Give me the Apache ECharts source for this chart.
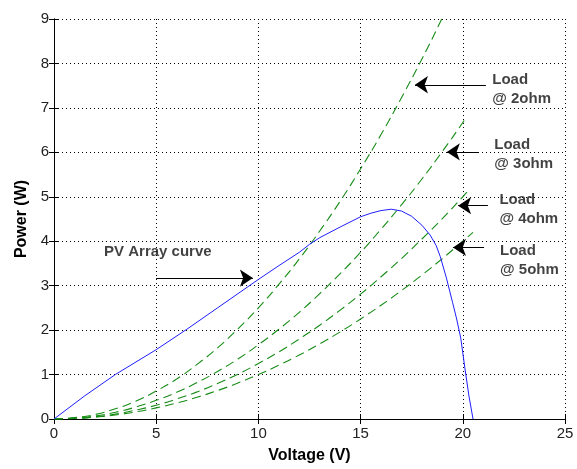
<!DOCTYPE html>
<html>
<head>
<meta charset="utf-8">
<script src="https://cdn.jsdelivr.net/npm/echarts@6/dist/echarts.min.js"></script>
<style>
  html, body { margin: 0; padding: 0; background: #fff; }
  #chart { width: 577px; height: 469px; }
</style>
</head>
<body>
<div id="chart"></div>
<script>
// PV array curve
var pvV = [0, 1.5, 3, 5, 6.5, 8, 10, 11, 12, 12.5, 13, 14, 15, 15.5, 16, 16.5, 17, 17.5, 18, 18.4, 18.7, 18.9, 19.2, 19.5, 19.7, 19.9, 20.1, 20.3, 20.5];
var pvP = [0, 0.52, 1.0, 1.56, 2.02, 2.5, 3.14, 3.45, 3.75, 3.93, 4.08, 4.32, 4.55, 4.63, 4.69, 4.72, 4.68, 4.56, 4.36, 4.14, 3.9, 3.65, 3.17, 2.62, 2.25, 1.82, 1.15, 0.52, 0];

// load lines
var loadV = [0, 1, 2, 3, 4, 5, 6, 7, 8, 9, 10, 11, 12, 13, 14, 15, 16, 17, 18, 19, 20];
var load2 = [0, 0.03, 0.1, 0.23, 0.4, 0.63, 0.9, 1.23, 1.6, 2.03, 2.5, 3.03, 3.6, 4.23, 4.9, 5.63, 6.4, 7.23, 8.1, 9.03, 10];
var load3 = [0, 0.02, 0.07, 0.15, 0.27, 0.42, 0.6, 0.82, 1.07, 1.35, 1.67, 2.02, 2.4, 2.82, 3.27, 3.75, 4.27, 4.82, 5.4, 6.02, 6.67];
var load4 = [0, 0.01, 0.05, 0.11, 0.2, 0.31, 0.45, 0.61, 0.8, 1.01, 1.25, 1.51, 1.8, 2.11, 2.45, 2.81, 3.2, 3.61, 4.05, 4.51, 5];
var load5 = [0, 0.01, 0.04, 0.09, 0.16, 0.25, 0.36, 0.49, 0.64, 0.81, 1.0, 1.21, 1.44, 1.69, 1.96, 2.25, 2.56, 2.89, 3.24, 3.61, 4.0];
var loadEndV = [20.5, 20.1, 20.35, 20.5];
var loadEndP = [10.5, 6.75, 5.18, 4.2];

// annotations
var noteText = ['PV Array curve', 'Load\n@ 2ohm', 'Load\n@ 3ohm', 'Load\n@ 4ohm', 'Load\n@ 5ohm'];
var noteV = [2.45, 21.44, 21.54, 21.79, 21.82];
var noteP = [3.77, 7.42, 5.95, 4.71, 3.57];
var arrowFromV = [5.0, 21.13, 20.79, 21.23, 21.04];
var arrowToV = [9.73, 17.66, 19.22, 19.77, 19.52];
var arrowP = [3.17, 7.52, 6.01, 4.8, 3.86];

function pairs(xs, ys) {
	var out = [];
	for (var i = 0; i < xs.length; i++) out.push([xs[i], ys[i]]);
	return out;
}

var loads = [load2, load3, load4, load5];
var loadSeries = loads.map(function (vals, k) {
	var d = pairs(loadV, vals);
	d.push([loadEndV[k], loadEndP[k]]);
	return {
		type: 'line',
		data: d,
		symbol: 'none',
		smooth: true,
		lineStyle: { color: '#168c16', width: 1.1, type: [9, 5] },
		z: 2
	};
});

var arrows = [];
for (var i = 0; i < arrowP.length; i++) {
	arrows.push([{ coord: [arrowFromV[i], arrowP[i]] }, { coord: [arrowToV[i], arrowP[i]] }]);
}

var notes = [];
for (var j = 0; j < noteText.length; j++) {
	notes.push({ value: [noteV[j], noteP[j]], name: noteText[j] });
}

var chart = echarts.init(document.getElementById('chart'));
var axisFont = { fontFamily: 'Liberation Sans', fontSize: 15, color: '#222' };

var option = {
	animation: false,
	grid: { left: 54, top: 19, right: 12, bottom: 47 },
	xAxis: [{
		type: 'value', min: 0, max: 25, interval: 5,
		name: 'Voltage (V)', nameLocation: 'middle', nameGap: 29,
		nameTextStyle: { fontFamily: 'Liberation Sans', fontWeight: 'bold', fontSize: 16, color: '#000' },
		axisLine: { show: true, lineStyle: { color: '#000', width: 1 } },
		axisTick: { show: true, inside: true, length: 5, lineStyle: { color: '#000' } },
		axisLabel: Object.assign({ margin: 7 }, axisFont),
		splitLine: { show: true, lineStyle: { color: '#000', width: 1, type: [1, 3] } }
	}, {
		type: 'value', min: 0, max: 25, interval: 5, position: 'top',
		axisLine: { show: true, lineStyle: { color: '#000', width: 1 } },
		axisTick: { show: true, inside: true, length: 5, lineStyle: { color: '#000' } },
		axisLabel: { show: false },
		splitLine: { show: false }
	}],
	yAxis: [{
		type: 'value', min: 0, max: 9, interval: 1,
		name: 'Power (W)', nameLocation: 'middle', nameGap: 24,
		nameTextStyle: { fontFamily: 'Liberation Sans', fontWeight: 'bold', fontSize: 16, color: '#000' },
		axisLine: { show: true, lineStyle: { color: '#000', width: 1 } },
		axisTick: { show: true, inside: true, length: 5, lineStyle: { color: '#000' } },
		axisLabel: Object.assign({ margin: 5 }, axisFont),
		splitLine: { show: true, lineStyle: { color: '#000', width: 1, type: [1, 3] } }
	}, {
		type: 'value', min: 0, max: 9, interval: 1, position: 'right',
		axisLine: { show: true, lineStyle: { color: '#000', width: 1 } },
		axisTick: { show: true, inside: true, length: 5, lineStyle: { color: '#000' } },
		axisLabel: { show: false },
		splitLine: { show: false }
	}],
	series: loadSeries.concat([{
		type: 'line',
		data: pairs(pvV, pvP),
		symbol: 'none',
		smooth: false,
		lineStyle: { color: '#1f1fff', width: 1 },
		z: 3,
		markLine: {
			silent: true,
			symbol: ['none', 'arrow'],
			symbolSize: 13,
			label: { show: false },
			lineStyle: { color: '#000', width: 1, type: 'solid' },
			data: arrows
		}
	}, {
		type: 'scatter',
		data: notes,
		symbolSize: 0,
		silent: true,
		label: {
			show: true,
			position: [0, 0],
			align: 'left',
			verticalAlign: 'middle',
			formatter: function (p) { return p.name; },
			fontFamily: 'Liberation Sans',
			fontWeight: 'bold',
			fontSize: 15,
			lineHeight: 19,
			color: '#111'
		},
		z: 4
	}])
};

chart.setOption(option);
</script>
</body>
</html>
